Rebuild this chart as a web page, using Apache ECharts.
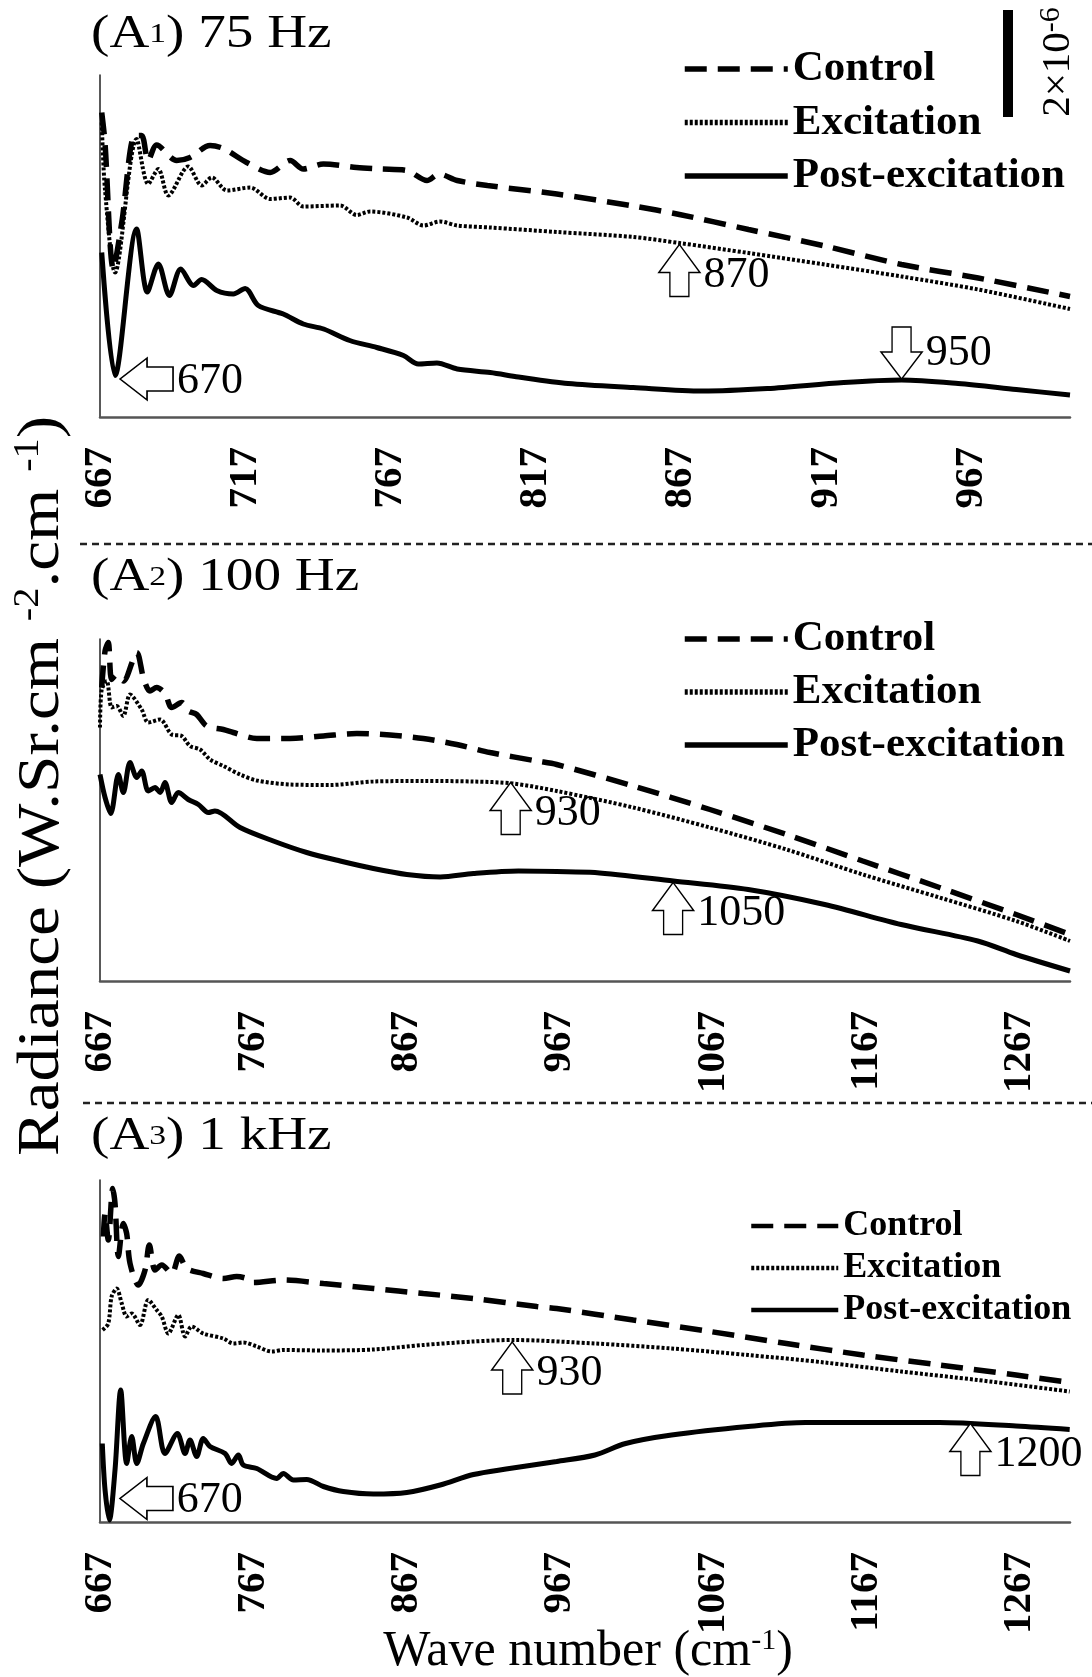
<!DOCTYPE html>
<html>
<head>
<meta charset="utf-8">
<script src="https://cdn.jsdelivr.net/npm/echarts@6/dist/echarts.min.js"></script>
<style>html,body{margin:0;padding:0;background:#fff}#c{width:1092px;height:1677px}</style>
</head>
<body>
<div id="c"></div>
<script>
// ---------- DATA (wave number cm-1, radiance in chart units; scale bar 2x10^-6 = SCALE_BAR_UNITS) ----------
const SERIES_NAMES = ['Control', 'Excitation', 'Post-excitation'];
const TICKS_A1 = [667, 717, 767, 817, 867, 917, 967];
const TICKS_A23 = [667, 767, 867, 967, 1067, 1167, 1267];
const X_RANGE_A1 = [667, 1001];
const X_RANGE_A23 = [667, 1300];
const Y_MAX = 6.84;
const SCALE_BAR_UNITS = 2.14;
const PANEL_TITLES = [['(A', '1', ') 75 Hz'], ['(A', '2', ') 100 Hz'], ['(A', '3', ') 1 kHz']];

const A1_CONTROL = [[667.6,6.09],[668.7,5.50],[671.6,2.96],[674.5,3.89],[679,5.63],[681.3,5.63],[683.6,5.13],[686.5,5.44],[693.4,5.13],[698,5.19],[704.9,5.43],[709.5,5.37],[717.5,5.09],[725.6,4.89],[732.5,5.13],[737,4.96],[743.9,5.06],[755.4,4.99],[763.5,4.96],[772.7,4.93],[779.6,4.73],[783.7,4.86],[790,4.73],[800.4,4.63],[824.3,4.46],[850.6,4.22],[866.5,4.05],[890.3,3.75],[916.6,3.42],[943,3.05],[969.4,2.78],[1001,2.41]];
const A1_EXCITATION = [[667.6,5.89],[668.7,4.56],[672.2,2.89],[679.6,5.56],[683.6,4.66],[687.1,4.96],[690.5,4.43],[697.4,5.01],[702,4.63],[705.5,4.79],[710.7,4.53],[718.7,4.59],[725.6,4.36],[732.5,4.39],[737,4.21],[749.7,4.23],[755.4,4.04],[760,4.11],[772.7,3.99],[778.4,3.83],[784.1,3.91],[790,3.83],[801.4,3.79],[824.3,3.70],[850.6,3.60],[866.5,3.48],[890.3,3.28],[916.6,3.05],[943,2.81],[969.4,2.55],[1001,2.16]];
const A1_POST = [[667.6,3.29],[672.2,0.83],[679.6,3.76],[683.3,2.50],[687.1,3.06],[690.9,2.43],[694.8,2.96],[699.2,2.63],[702,2.75],[707.2,2.53],[712.9,2.46],[717,2.57],[721.5,2.23],[730.1,2.06],[737,1.86],[744,1.76],[753,1.53],[762.3,1.39],[771.5,1.23],[776.6,1.06],[783,1.08],[790,0.96],[801.4,0.89],[811.1,0.80],[828.2,0.67],[850.6,0.59],[874.4,0.52],[896.8,0.57],[923.1,0.69],[943,0.74],[962.5,0.67],[982.5,0.55],[1001,0.44]];

const A2_CONTROL = [[668.1,5.87],[670.3,6.60],[672.4,6.77],[674.6,6.03],[677.9,6.13],[682.2,6.00],[691,6.57],[695.3,6.07],[699.6,5.80],[704,5.87],[709.4,5.75],[713.8,5.47],[720.3,5.57],[724.6,5.40],[730.1,5.33],[736.6,5.10],[747.5,5.03],[754,4.97],[769.3,4.85],[791,4.85],[812.8,4.90],[834.6,4.95],[856.3,4.92],[878,4.85],[899.8,4.73],[921.6,4.57],[952,4.40],[965,4.33],[1015,3.90],[1065,3.43],[1115,2.93],[1164.8,2.40],[1214.8,1.87],[1264.8,1.33],[1300,0.93]];
const A2_EXCITATION = [[667,5.07],[668.1,5.83],[671.4,6.00],[674.6,5.47],[677.9,5.50],[682.2,5.30],[686.6,5.73],[694.2,5.43],[698.5,5.17],[706.2,5.23],[713.8,4.93],[720.3,4.90],[725.7,4.70],[732.3,4.63],[738.8,4.43],[747.5,4.30],[758.4,4.13],[769.3,4.01],[791,3.93],[817.1,3.92],[845.4,3.99],[878,4.00],[910.7,3.99],[936.3,3.95],[965,3.80],[1015,3.47],[1065,3.07],[1115,2.63],[1164.8,2.13],[1214.8,1.67],[1264.8,1.20],[1300,0.80]];
const A2_POST = [[667,4.13],[670.3,3.67],[674,3.35],[679,4.13],[682.2,3.77],[686.6,4.37],[691,4.07],[694.2,4.20],[698.5,3.80],[702.9,3.87],[706.2,3.77],[709.4,3.97],[713.8,3.57],[718.1,3.77],[724.6,3.63],[731.2,3.53],[737.7,3.37],[742,3.40],[758.4,3.07],[780.1,2.80],[801.9,2.57],[823.7,2.40],[845.4,2.25],[867.2,2.13],[889,2.08],[910.7,2.15],[940,2.20],[965,2.19],[990,2.17],[1041.2,2.00],[1090,1.83],[1139.9,1.53],[1189.8,1.13],[1239.8,0.80],[1264.8,0.53],[1300,0.20]];

const A3_CONTROL = [[669.2,5.71],[670.3,6.17],[672.4,5.64],[675.3,6.67],[676.8,6.37],[679,5.31],[682.2,5.97],[684.4,5.77],[686.6,5.17],[692,4.74],[696.4,5.04],[699.2,5.54],[702.9,5.04],[707.3,5.14],[713.8,4.97],[718.8,5.32],[723.6,5.07],[734.4,4.97],[747.5,4.87],[756.2,4.91],[762.8,4.87],[767.1,4.79],[786.6,4.84],[812.8,4.77],[845.4,4.67],[878,4.57],[910.7,4.47],[952,4.31],[965,4.27],[1015,4.04],[1065,3.81],[1115,3.57],[1164.8,3.34],[1214.8,3.14],[1264.8,2.94],[1299.8,2.79]];
const A3_EXCITATION = [[668.7,3.84],[672.4,3.97],[674.6,4.51],[677.9,4.67],[681.2,4.37],[684.4,4.11],[687.7,4.17],[693.1,3.94],[698.5,4.44],[704,4.24],[707.3,4.11],[711.6,3.77],[718.1,4.14],[722.5,3.71],[726.8,3.91],[734.4,3.77],[747.5,3.67],[754,3.57],[760.5,3.59],[769.3,3.51],[779.1,3.41],[786.6,3.44],[812.8,3.43],[845.4,3.45],[878,3.54],[910.7,3.61],[936.3,3.64],[990,3.57],[1040,3.47],[1090,3.34],[1139.9,3.19],[1189.8,3.01],[1239.8,2.84],[1299.8,2.61]];
const A3_POST = [[668.5,1.57],[670.3,0.64],[673.1,0.04],[676.8,1.04],[680.5,2.64],[684.4,1.17],[687.7,1.71],[691,1.17],[695.3,1.57],[703.3,2.11],[709.4,1.37],[717.5,1.77],[722.5,1.37],[725.7,1.64],[730.1,1.31],[734.4,1.67],[738.8,1.51],[748.6,1.37],[752.9,1.17],[757.3,1.34],[760.5,1.14],[769.3,1.07],[782.3,0.87],[786.6,0.97],[793.2,0.84],[801.9,0.85],[812.8,0.71],[825.8,0.61],[845.4,0.56],[867.2,0.59],[889,0.74],[910.7,0.95],[932,1.06],[965,1.21],[990,1.34],[1010,1.57],[1040,1.74],[1090,1.91],[1127.4,1.99],[1164.8,1.99],[1214.8,1.99],[1264.8,1.92],[1299.8,1.85]];

// annotations: [series name, wave number, value, arrow direction, text]
const ANN_A1 = [['Excitation', 866.5, 3.45, 'up', '870'], ['Post-excitation', 943, 0.76, 'down', '950'], ['Post-excitation', 673.9, 0.76, 'left', '670']];
const ANN_A2 = [['Excitation', 935, 3.97, 'up', '930'], ['Post-excitation', 1041, 1.97, 'up', '1050']];
const ANN_A3 = [['Excitation', 936, 3.60, 'up', '930'], ['Post-excitation', 1235, 1.97, 'up', '1200'], ['Post-excitation', 680, 0.47, 'left', '670']];

// ---------- LAYOUT / STYLE ----------
const SERIF = "'Liberation Serif', 'Times New Roman', serif";
const GRID_LEFT = 100, GRID_W = 970, GRID_H = 342;
const GRID_TOPS = [75, 639, 1180];
const LINE_STYLES = {
  'Control': { type: [22, 11], width: 5.5 },
  'Excitation': { type: [3, 2], width: 4 },
  'Post-excitation': { type: 'solid', width: 5 }
};
const ARROWS = {
  up: { path: 'path://M20.5,0 L41,28 L30,28 L30,52 L11,52 L11,28 L0,28 Z', size: [41, 52], offset: [0, 26], labelOffset: [0, 5] },
  down: { path: 'path://M11,0 L30,0 L30,25 L41,25 L20.5,52 L0,25 L11,25 Z', size: [41, 52], offset: [0, -26], labelOffset: [0, 0] },
  left: { path: 'path://M0,21 L27,0 L27,9 L53,9 L53,33 L27,33 L27,42 Z', size: [53, 42], offset: [26.5, 0], labelOffset: [0, 2] }
};

const panels = [
  { data: [A1_CONTROL, A1_EXCITATION, A1_POST], range: X_RANGE_A1, ticks: TICKS_A1, ann: ANN_A1 },
  { data: [A2_CONTROL, A2_EXCITATION, A2_POST], range: X_RANGE_A23, ticks: TICKS_A23, ann: ANN_A2 },
  { data: [A3_CONTROL, A3_EXCITATION, A3_POST], range: X_RANGE_A23, ticks: TICKS_A23, ann: ANN_A3 }
];

const grids = [], xAxes = [], yAxes = [], series = [];
panels.forEach((p, i) => {
  grids.push({ left: GRID_LEFT, top: GRID_TOPS[i], width: GRID_W, height: GRID_H, containLabel: false, outerBoundsMode: 'none' });
  xAxes.push({
    type: 'value', gridIndex: i, min: p.range[0], max: p.range[1],
    axisLine: { show: true, onZero: false, lineStyle: { color: '#555', width: 2.5 } },
    axisTick: { show: false }, splitLine: { show: false },
    axisLabel: {
      show: true, customValues: p.ticks, rotate: 90, margin: 30,
      formatter: v => String(Math.round(v)),
      fontSize: 41, fontWeight: 'bold', fontFamily: SERIF, color: '#000'
    }
  });
  yAxes.push({
    type: 'value', gridIndex: i, min: 0, max: Y_MAX,
    axisLine: { show: true, onZero: false, lineStyle: { color: '#222', width: 1.5 } },
    axisTick: { show: false }, axisLabel: { show: false }, splitLine: { show: false }
  });
  SERIES_NAMES.forEach((name, k) => {
    const ls = LINE_STYLES[name];
    const anns = p.ann.filter(a => a[0] === name);
    series.push({
      type: 'line', name, xAxisIndex: i, yAxisIndex: i, data: p.data[k],
      showSymbol: false, symbol: 'none', smooth: 0.3,
      lineStyle: { color: '#000', width: ls.width, type: ls.type },
      itemStyle: { color: '#000' },
      z: 3 - k,
      markPoint: anns.length ? {
        silent: true,
        data: anns.map(a => {
          const ar = ARROWS[a[3]];
          return {
            name: a[4], coord: [a[1], a[2]], symbol: ar.path, symbolSize: ar.size, symbolOffset: ar.offset,
            itemStyle: { color: '#fff', borderColor: '#000', borderWidth: 1.5 },
            label: { show: true, position: 'right', distance: 3, offset: ar.labelOffset, formatter: '{b}', fontSize: 44, fontFamily: SERIF, color: '#000' }
          };
        })
      } : undefined
    });
  });
});

function legend(left, top, fontSize, itemWidth, itemGap, lineWidth) {
  return {
    orient: 'vertical', left, top, itemWidth, itemHeight: 14, itemGap, selectedMode: false,
    data: SERIES_NAMES, padding: 0,
    itemStyle: { color: 'rgba(0,0,0,0)', borderColor: 'rgba(0,0,0,0)', borderWidth: 0 },
    lineStyle: { width: lineWidth },
    textStyle: { fontSize, fontWeight: 'bold', fontFamily: SERIF, color: '#000' }
  };
}

function titleText(i, y) {
  const t = PANEL_TITLES[i];
  return {
    type: 'text', x: 91, y, scaleX: 1.2,
    style: {
      text: '{a|' + t[0] + '}{s|' + t[1] + '}{a|' + t[2] + '}',
      align: 'left', textAlign: 'left', verticalAlign: 'middle', textVerticalAlign: 'middle',
      rich: {
        a: { fontSize: 46, fontFamily: SERIF, fill: '#000' },
        s: { fontSize: 28, fontFamily: SERIF, fill: '#000' }
      }
    }
  };
}

const barH = SCALE_BAR_UNITS * GRID_H / Y_MAX;

const option = {
  animation: false,
  backgroundColor: '#fff',
  grid: grids, xAxis: xAxes, yAxis: yAxes, series,
  legend: [
    legend(682, 47.5, 43, 103, 10.5, 5.5),
    legend(682, 617.5, 43, 103, 10, 5.5),
    legend(749, 1208, 36, 87, 6, 4.5)
  ],
  graphic: [
    titleText(0, 35), titleText(1, 578), titleText(2, 1137),
    { type: 'line', shape: { x1: 80, y1: 544, x2: 1092, y2: 544 }, style: { stroke: '#222', lineWidth: 2.5, lineDash: [7, 5] } },
    { type: 'line', shape: { x1: 83, y1: 1103, x2: 1092, y2: 1103 }, style: { stroke: '#222', lineWidth: 2.5, lineDash: [7, 5] } },
    { type: 'rect', shape: { x: 1003, y: 117 - barH, width: 10, height: barH }, style: { fill: '#000' } },
    {
      type: 'text', x: 1058, y: 62, rotation: Math.PI / 2,
      style: {
        text: '{a|2×10}{s|-6}', align: 'center', textAlign: 'center', verticalAlign: 'middle', textVerticalAlign: 'middle',
        rich: { a: { fontSize: 41, fontFamily: SERIF, fill: '#000', lineHeight: 44 }, s: { fontSize: 30, fontFamily: SERIF, fill: '#000', verticalAlign: 'top', lineHeight: 44 } }
      }
    },
    {
      type: 'text', x: 42, y: 786, rotation: Math.PI / 2, scaleX: 1.12,
      style: {
        text: '{a|Radiance (W.Sr.cm }{s|-2}{a|.cm }{s|-1}{a|)}', align: 'center', textAlign: 'center', verticalAlign: 'middle', textVerticalAlign: 'middle',
        rich: { a: { fontSize: 60, fontFamily: SERIF, fill: '#000', lineHeight: 62 }, s: { fontSize: 36, fontFamily: SERIF, fill: '#000', verticalAlign: 'top', lineHeight: 62 } }
      }
    },
    {
      type: 'text', x: 588, y: 1652,
      style: {
        text: '{a|Wave number (cm}{s|-1}{a|)}', align: 'center', textAlign: 'center', verticalAlign: 'middle', textVerticalAlign: 'middle',
        rich: { a: { fontSize: 50, fontFamily: SERIF, fill: '#000', lineHeight: 52 }, s: { fontSize: 30, fontFamily: SERIF, fill: '#000', verticalAlign: 'top', lineHeight: 52 } }
      }
    }
  ]
};

const chart = echarts.init(document.getElementById('c'), null, { renderer: 'canvas' });
chart.setOption(option);
</script>
</body>
</html>
